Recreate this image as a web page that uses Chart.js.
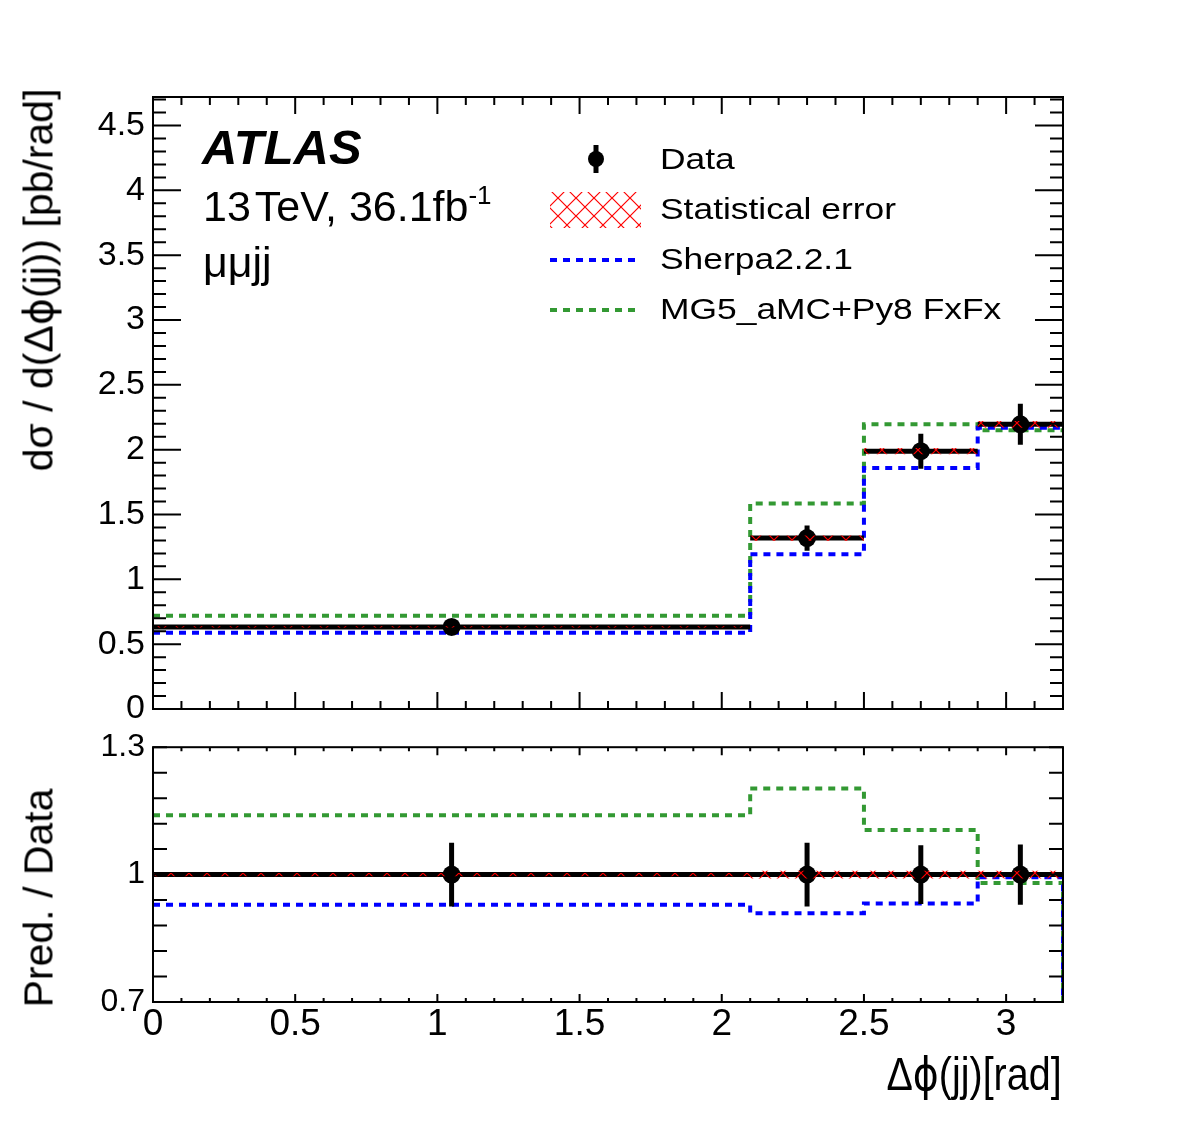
<!DOCTYPE html>
<html>
<head>
<meta charset="utf-8">
<script src="https://cdn.jsdelivr.net/npm/chart.js@4.4.1/dist/chart.umd.min.js"></script>
<style>
  body { margin: 0; background: #fff; }
  #page { position: relative; width: 1182px; height: 1123px; overflow: hidden;
          font-family: 'Liberation Sans', Arial, sans-serif; color: #000; }
  #page canvas { position: absolute; left: 0; }
  .txt { position: absolute; line-height: 1; white-space: nowrap; }
  .rot { transform: translate(-50%, -50%) rotate(-90deg); }
  .leg { left: 660px; font-size: 30px; transform: scaleX(1.18); transform-origin: left center; }
  .phi { font-family: 'DejaVu Sans', 'Liberation Sans', sans-serif; }
</style>
</head>
<body>
<div id="page">
  <canvas id="upper" width="1182" height="740" style="top:0"></canvas>
  <canvas id="lower" width="1182" height="403" style="top:720px"></canvas>

  <div class="txt" style="left:202px; top:123px; font-size:49px; font-weight:bold; font-style:italic;">ATLAS</div>
  <div class="txt" style="left:203px; top:185px; font-size:43px;">13<span style="margin-left:4px">TeV, 36.1fb</span><span style="font-size:26px; position:relative; top:-17px;">-1</span></div>
  <div class="txt" style="left:203px; top:241px; font-size:43px;">μμjj</div>

  <div class="txt leg" style="top:144px;">Data</div>
  <div class="txt leg" style="top:194px;">Statistical error</div>
  <div class="txt leg" style="top:244px;">Sherpa2.2.1</div>
  <div class="txt leg" style="top:294px;">MG5_aMC+Py8 FxFx</div>

  <div class="txt rot" style="left:39px; top:280px; font-size:41px;">dσ / d(Δ<span class="phi">ϕ</span>(jj)) [pb/rad]</div>
  <div class="txt rot" style="left:39px; top:898px; font-size:41px;">Pred. / Data</div>
  <div class="txt" style="right:120px; top:1050px; font-size:47px; transform:scaleX(0.84); transform-origin:right center;">Δ<span class="phi">ϕ</span>(jj)[rad]</div>
</div>

<script>
// bins in delta phi(jj)
const binEdges = [0, 2.1, 2.5, 2.9, 3.2];
const binCenters = [1.05, 2.3, 2.7, 3.05];

// upper panel, pb/rad
const dataValues = [0.633, 1.318, 1.988, 2.196];
const dataErrors = [0.047, 0.097, 0.135, 0.158];
const statErrors = [0.005, 0.02, 0.024, 0.026];
const sherpaValues = [0.588, 1.194, 1.859, 2.17];
const mg5Values = [0.719, 1.585, 2.196, 2.15];

// ratio panel
const ratioData = [1, 1, 1, 1];
const ratioDataErrors = [0.075, 0.075, 0.069, 0.071];
const ratioStatErrors = [0.004, 0.009, 0.009, 0.009];
const ratioSherpa = [0.929, 0.909, 0.932, 0.994];
const ratioMg5 = [1.14, 1.203, 1.105, 0.98];

// tick labels
const upperYTicks = [0, 0.5, 1, 1.5, 2, 2.5, 3, 3.5, 4, 4.5];
const lowerYTicks = [0.7, 1, 1.3];
const xTicks = [0, 0.5, 1, 1.5, 2, 2.5, 3];

const BLUE = '#0000ff';
const GREEN = '#339933';
const DASH = [7, 6];

// red cross hatch used for the statistical error band
function makeHatch() {
  const t = document.createElement('canvas');
  t.width = 18; t.height = 18;
  const c = t.getContext('2d');
  c.strokeStyle = '#ff0000';
  c.lineWidth = 1.2;
  c.beginPath();
  c.moveTo(0, 0); c.lineTo(18, 18);
  c.moveTo(18, 0); c.lineTo(0, 18);
  c.stroke();
  return c.createPattern(t, 'repeat');
}
const hatch = makeHatch();

// histogram outline: left edges + closing right edge (optionally drop to a value)
function stepPoints(values, dropTo) {
  const pts = values.map((v, i) => ({ x: binEdges[i], y: v }));
  pts.push({ x: binEdges[binEdges.length - 1], y: values[values.length - 1] });
  if (dropTo !== undefined) pts.push({ x: binEdges[binEdges.length - 1], y: dropTo });
  return pts;
}
function stepBand(values, errs, sign) {
  return stepPoints(values.map((v, i) => v + sign * errs[i]));
}
// separate horizontal segments per bin (x error bars)
function binBars(values) {
  const pts = [];
  values.forEach((v, i) => {
    pts.push({ x: binEdges[i], y: v }, { x: binEdges[i + 1], y: v }, { x: binEdges[i + 1], y: null });
  });
  return pts;
}
// vertical error bars at bin centres
function errBars(values, errs) {
  const pts = [];
  values.forEach((v, i) => {
    pts.push({ x: binCenters[i], y: v - errs[i] }, { x: binCenters[i], y: v + errs[i] }, { x: binCenters[i], y: null });
  });
  return pts;
}

function datasets(vals, errs, stat, sherpa, mg5, drop) {
  const line = { pointRadius: 0, tension: 0, fill: false };
  return [
    { ...line, data: stepPoints(mg5, drop), stepped: true, borderColor: GREEN, borderWidth: 4, borderDash: DASH, order: 7 },
    { ...line, data: stepPoints(sherpa, drop), stepped: true, borderColor: BLUE, borderWidth: 4, borderDash: DASH, order: 6 },
    { ...line, data: binBars(vals), borderColor: '#000', borderWidth: 5, spanGaps: false, order: 5 },
    { ...line, data: errBars(vals, errs), borderColor: '#000', borderWidth: 5, spanGaps: false, order: 4 },
    { data: binCenters.map((x, i) => ({ x, y: vals[i] })), showLine: false, pointRadius: 9,
      pointBackgroundColor: '#000', pointBorderWidth: 0, order: 3 },
    { ...line, data: stepBand(vals, stat, -1), stepped: true, borderWidth: 0, order: 2 },
    { ...line, data: stepBand(vals, stat, 1), stepped: true, borderWidth: 0, fill: '-1',
      backgroundColor: hatch, order: 1 }
  ];
}

// ROOT style frame with inward ticks on all four sides
const rootFrame = {
  id: 'rootFrame',
  afterDraw(chart, args, opts) {
    const { ctx, chartArea: a } = chart;
    const sx = chart.scales.x, sy = chart.scales.y;
    ctx.save();
    ctx.strokeStyle = '#000';
    ctx.lineWidth = 2;
    const run = (scale, cfg, draw) => {
      const n = Math.round((scale.max - scale.min) / cfg.step);
      for (let k = 0; k <= n; k++) {
        const p = scale.getPixelForValue(scale.min + k * cfg.step);
        draw(p, k % cfg.every === 0 ? cfg.majorLen : cfg.minorLen);
      }
    };
    ctx.beginPath();
    run(sx, opts.x, (p, len) => {
      ctx.moveTo(p, a.bottom); ctx.lineTo(p, a.bottom - len);
      ctx.moveTo(p, a.top); ctx.lineTo(p, a.top + len);
    });
    run(sy, opts.y, (p, len) => {
      ctx.moveTo(a.left, p); ctx.lineTo(a.left + len, p);
      ctx.moveTo(a.right, p); ctx.lineTo(a.right - len, p);
    });
    ctx.stroke();
    ctx.strokeRect(a.left, a.top, a.right - a.left, a.bottom - a.top);
    ctx.restore();
  }
};

// legend symbols (texts are html)
const legendMarks = {
  id: 'legendMarks',
  afterDraw(chart) {
    const ctx = chart.ctx;
    ctx.save();
    ctx.strokeStyle = '#000';
    ctx.lineWidth = 5;
    ctx.beginPath(); ctx.moveTo(596, 145); ctx.lineTo(596, 173); ctx.stroke();
    ctx.fillStyle = '#000';
    ctx.beginPath(); ctx.arc(596, 159, 8, 0, Math.PI * 2); ctx.fill();
    ctx.fillStyle = hatch;
    ctx.fillRect(550, 192, 91, 36);
    ctx.lineWidth = 4;
    ctx.setLineDash(DASH);
    [[BLUE, 260], [GREEN, 310]].forEach(([col, y]) => {
      ctx.strokeStyle = col;
      ctx.beginPath(); ctx.moveTo(550, y); ctx.lineTo(641, y); ctx.stroke();
    });
    ctx.restore();
  }
};

const fontMain = "'Liberation Sans', Arial, sans-serif";
const fontNarrow = "'Liberation Sans Narrow', 'Arial Narrow', 'Liberation Sans', sans-serif";

function setTicks(list) {
  return scale => { scale.ticks = list.map(v => ({ value: v })); };
}

new Chart(document.getElementById('upper'), {
  type: 'line',
  data: { datasets: datasets(dataValues, dataErrors, statErrors, sherpaValues, mg5Values) },
  options: {
    responsive: false, animation: false, events: [],
    layout: { padding: { left: 0, right: 119, top: 97, bottom: 31 } },
    scales: {
      x: { type: 'linear', min: 0, max: 3.2, display: false },
      y: {
        type: 'linear', min: 0, max: 4.72,
        grid: { display: false, drawTicks: false }, border: { display: false },
        afterBuildTicks: setTicks(upperYTicks),
        afterFit: s => { s.width = 153; },
        ticks: { padding: 8, autoSkip: false, color: '#000', font: { family: fontMain, size: 34 },
                 callback: v => String(v) }
      }
    },
    plugins: {
      legend: { display: false }, tooltip: { enabled: false },
      rootFrame: { x: { step: 0.1, every: 5, majorLen: 17, minorLen: 8 },
                   y: { step: 0.1, every: 5, majorLen: 28, minorLen: 13 } }
    }
  },
  plugins: [rootFrame, legendMarks]
});

new Chart(document.getElementById('lower'), {
  type: 'line',
  data: { datasets: datasets(ratioData, ratioDataErrors, ratioStatErrors, ratioSherpa, ratioMg5, 0) },
  options: {
    responsive: false, animation: false, events: [],
    layout: { padding: { left: 0, right: 119, top: 25, bottom: 81 } },
    scales: {
      x: {
        type: 'linear', min: 0, max: 3.2,
        grid: { display: false, drawTicks: false }, border: { display: false },
        afterBuildTicks: setTicks(xTicks),
        afterFit: s => { s.height = 40; },
        ticks: { padding: 1, autoSkip: false, maxRotation: 0, color: '#000',
                 font: { family: fontNarrow, size: 37 }, callback: v => String(v) }
      },
      y: {
        type: 'linear', min: 0.7, max: 1.3,
        grid: { display: false, drawTicks: false }, border: { display: false },
        afterBuildTicks: setTicks(lowerYTicks),
        afterFit: s => { s.width = 153; },
        ticks: { padding: 8, autoSkip: false, color: '#000', font: { family: fontMain, size: 32 },
                 callback: v => String(v) }
      }
    },
    plugins: {
      legend: { display: false }, tooltip: { enabled: false },
      rootFrame: { x: { step: 0.1, every: 5, majorLen: 8, minorLen: 4 },
                   y: { step: 0.06, every: 1, majorLen: 14, minorLen: 14 } }
    }
  },
  plugins: [rootFrame]
});
</script>
</body>
</html>
